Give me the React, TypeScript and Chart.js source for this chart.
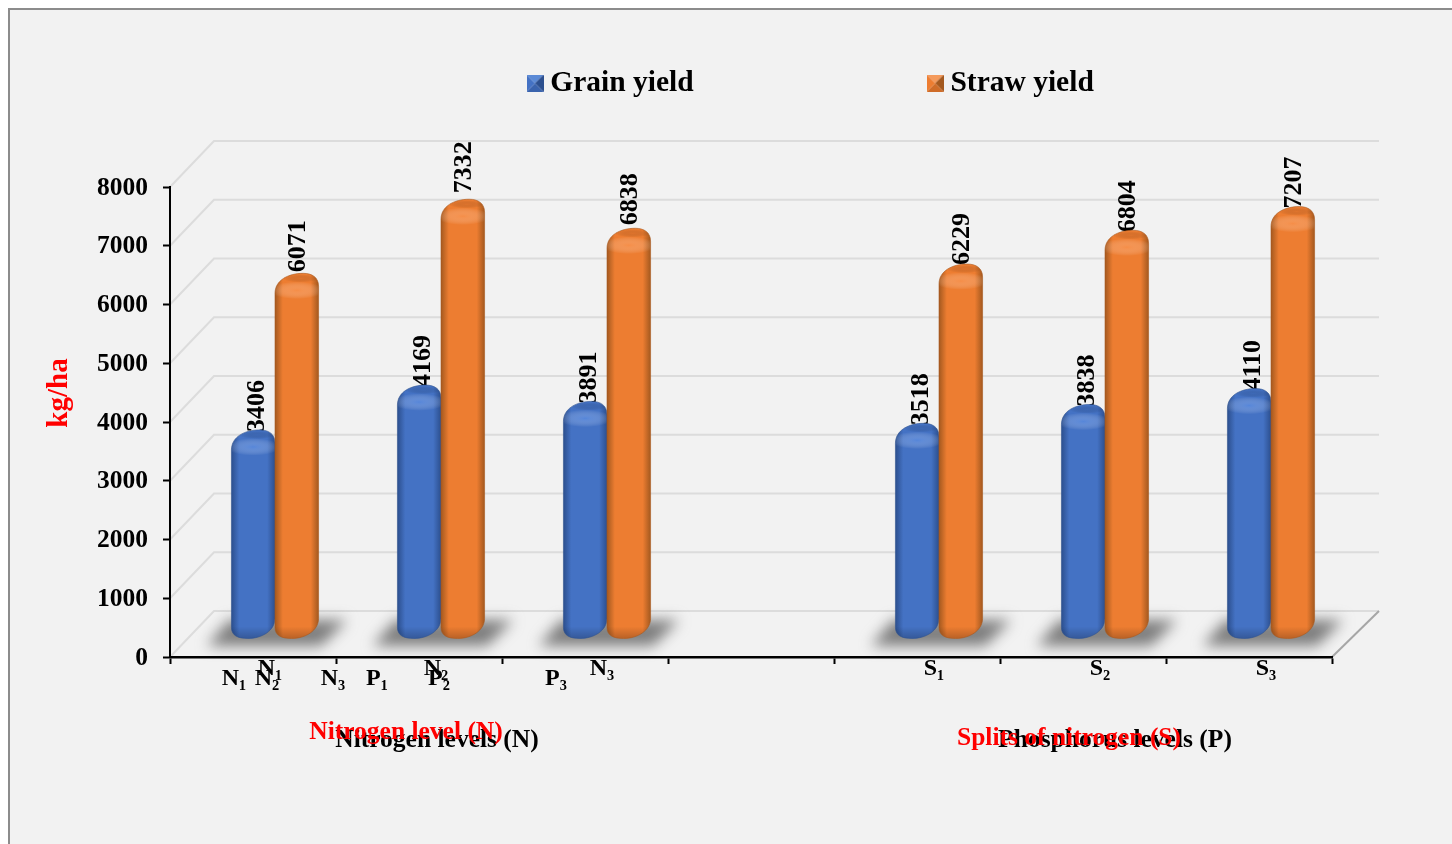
import React, { useEffect, useRef } from "react";
import { Chart, registerables } from "chart.js";

Chart.register(...registerables);

const categories = ["N\u2081", "N\u2082", "N\u2083", "", "S\u2081", "S\u2082", "S\u2083"];
const grainYield = [3406, 4169, 3891, null, 3518, 3838, 4110];
const strawYield = [6071, 7332, 6838, null, 6229, 6804, 7207];
const yTicks = [0, 1000, 2000, 3000, 4000, 5000, 6000, 7000, 8000];
const seriesNames = ["Grain yield", "Straw yield"];
const strayTickLabels = ["N\u2081", "N\u2082", "N\u2083", "P\u2081", "P\u2082", "P\u2083"];
const strayTickX = [234, 267, 333, 377, 439, 556];
const axisTitles = [
  { text: "Nitrogen levels (N)", color: "#000000", x: 437, y: 740 },
  { text: "Phosphorus levels (P)", color: "#000000", x: 1115, y: 740 },
  { text: "Nitrogen level (N)", color: "#ff0000", x: 406, y: 732 },
  { text: "Splits of nitrogen (S)", color: "#ff0000", x: 1069, y: 738 },
];
const strawLabelNudge = [3, 8, 5, 0, 1, 0, 0];

const SERIF = "'Liberation Serif', serif";
const DEPTH_X = 22;
const DEPTH_Y = 18;
const WALL_X = 44;
const WALL_Y = 46;

const palette = [
  { base: "#4472c4", dark: "#2c4f8e", mid: "#3a63ad", top: "#5b8ad6", light: "rgba(100,150,235,0.55)", face: "rgba(47,85,151,0.3)", line: "#2f528f" },
  { base: "#ed7d31", dark: "#a4591f", mid: "#cf6c28", top: "#f49a5c", light: "rgba(252,155,90,0.55)", face: "rgba(190,95,35,0.3)", line: "#a9591f" },
];

function legendIcon(p: (typeof palette)[number]) {
  const c = document.createElement("canvas");
  c.width = 17;
  c.height = 17;
  const g = c.getContext("2d")!;
  const tri = (pts: number[][], col: string) => {
    g.fillStyle = col;
    g.beginPath();
    g.moveTo(pts[0][0], pts[0][1]);
    g.lineTo(pts[1][0], pts[1][1]);
    g.lineTo(pts[2][0], pts[2][1]);
    g.closePath();
    g.fill();
  };
  tri([[0, 0], [17, 0], [8.5, 8.5]], p.top);
  tri([[17, 0], [17, 17], [8.5, 8.5]], p.dark);
  tri([[17, 17], [0, 17], [8.5, 8.5]], p.mid);
  tri([[0, 17], [0, 0], [8.5, 8.5]], p.base);
  return c;
}

function cylinderPath(ctx: CanvasRenderingContext2D, L: number, R: number, t: number, b: number) {
  const w = R - L;
  ctx.beginPath();
  ctx.moveTo(L, t + 20);
  ctx.bezierCurveTo(L, t + 7, L + 0.3 * w, t, L + 0.65 * w, t);
  ctx.bezierCurveTo(L + 0.85 * w, t, R, t + 4, R, t + 13);
  ctx.lineTo(R, b - 20);
  ctx.bezierCurveTo(R, b - 8, R - 0.3 * w, b, L + 0.38 * w, b);
  ctx.bezierCurveTo(L + 0.15 * w, b, L, b - 3, L, b - 11);
  ctx.closePath();
}

function drawCylinder(ctx: CanvasRenderingContext2D, el: any, p: (typeof palette)[number]) {
  const cx = el.x + DEPTH_X;
  const L = cx - el.width / 2;
  const R = cx + el.width / 2;
  const t = el.y - 9 - DEPTH_Y;
  const b = el.base - DEPTH_Y;
  ctx.save();
  cylinderPath(ctx, L, R, t, b);
  const g = ctx.createLinearGradient(L, 0, R, 0);
  g.addColorStop(0, p.dark);
  g.addColorStop(0.18, p.base);
  g.addColorStop(0.82, p.base);
  g.addColorStop(1, p.dark);
  ctx.fillStyle = g;
  ctx.fill();
  ctx.clip();
  // soft bright shoulder band and slightly darker top face
  ctx.save();
  ctx.translate(cx, t + 17);
  ctx.scale(1, 0.32);
  const r = ctx.createRadialGradient(0, 0, 0, 0, 0, el.width * 0.62);
  r.addColorStop(0, p.light);
  r.addColorStop(1, "rgba(255,255,255,0)");
  ctx.fillStyle = r;
  ctx.fillRect(-el.width, -el.width, el.width * 2, el.width * 2);
  ctx.restore();
  ctx.save();
  ctx.translate(cx + 4, t + 5);
  ctx.scale(1, 0.22);
  const f = ctx.createRadialGradient(0, 0, 0, 0, 0, el.width * 0.42);
  f.addColorStop(0, p.face);
  f.addColorStop(1, "rgba(0,0,0,0)");
  ctx.fillStyle = f;
  ctx.fillRect(-el.width, -el.width, el.width * 2, el.width * 2);
  ctx.restore();
  // darker lower rim
  const rim = ctx.createLinearGradient(0, b - 12, 0, b);
  rim.addColorStop(0, "rgba(0,0,0,0)");
  rim.addColorStop(1, "rgba(0,0,0,0.22)");
  ctx.fillStyle = rim;
  ctx.fillRect(L, b - 12, el.width, 12);
  ctx.restore();
  ctx.save();
  cylinderPath(ctx, L, R, t, b);
  ctx.strokeStyle = p.line;
  ctx.lineWidth = 0.6;
  ctx.stroke();
  ctx.restore();
}

const scenePlugin = {
  id: "scene",
  beforeLayout(chart: any) {
    const l = chart.legend;
    if (l && !l.__patched) {
      const fit = l.fit;
      l.fit = function () {
        fit.call(this);
        this.height = 0;
      };
      l.__patched = true;
    }
  },
  afterLayout(chart: any) {
    const l = chart.legend;
    const pad = l.options.labels.padding;
    l.left = 534.5 - pad;
    l.right = 1452;
    l.top = 68.5 - pad;
    l.bottom = 120;
  },
  beforeDraw(chart: any) {
    const { ctx, width, height } = chart;
    const x = chart.scales.x;
    const y = chart.scales.y;
    ctx.save();
    ctx.fillStyle = "#ffffff";
    ctx.fillRect(0, 0, width, height);
    ctx.fillStyle = "#f2f2f2";
    ctx.fillRect(9, 9, width, height);
    ctx.strokeStyle = "#8c8c8c";
    ctx.lineWidth = 2;
    ctx.beginPath();
    ctx.moveTo(9, height);
    ctx.lineTo(9, 9);
    ctx.lineTo(width, 9);
    ctx.stroke();

    const left = x.left;
    const right = x.right;
    const y0 = y.getPixelForValue(0);
    // gridlines on the side and back walls
    ctx.strokeStyle = "#dcdcdc";
    ctx.lineWidth = 2;
    yTicks.forEach((v) => {
      const py = y.getPixelForValue(v);
      ctx.beginPath();
      ctx.moveTo(left, py);
      ctx.lineTo(left + WALL_X, py - WALL_Y);
      ctx.lineTo(right + WALL_X + 3, py - WALL_Y);
      ctx.stroke();
    });
    ctx.strokeStyle = "#a6a6a6";
    ctx.beginPath();
    ctx.moveTo(right, y0);
    ctx.lineTo(right + WALL_X + 3, y0 - WALL_Y);
    ctx.stroke();

    // floor shadows under each pair of bars
    ctx.filter = "blur(7px)";
    ctx.fillStyle = "rgba(115,115,115,0.92)";
    categories.forEach((c, i) => {
      if (!c) return;
      const cx = x.getPixelForValue(i) + DEPTH_X;
      ctx.beginPath();
      ctx.moveTo(cx - 68, y0 - 11);
      ctx.lineTo(cx - 46, y0 - 37);
      ctx.lineTo(cx + 72, y0 - 37);
      ctx.lineTo(cx + 46, y0 - 11);
      ctx.closePath();
      ctx.fill();
    });
    ctx.filter = "none";
    ctx.restore();
  },
  beforeDatasetsDraw(chart: any) {
    const { ctx } = chart;
    ctx.save();
    // rotated values sit behind the bar caps
    ctx.font = `bold 26px ${SERIF}`;
    ctx.fillStyle = "#000000";
    ctx.textAlign = "left";
    ctx.textBaseline = "middle";
    chart.data.datasets.forEach((ds: any, di: number) => {
      chart.getDatasetMeta(di).data.forEach((el: any, i: number) => {
        const v = ds.data[i];
        if (v == null) return;
        ctx.save();
        ctx.translate(el.x + DEPTH_X + (di === 0 ? 4 : 1), el.y - 25 - (di === 1 ? strawLabelNudge[i] : 0));
        ctx.rotate(-Math.PI / 2);
        ctx.fillText(String(v), 0, 0);
        ctx.restore();
      });
    });
    ctx.restore();
  },
  beforeDatasetDraw() {
    return false;
  },
  afterDatasetsDraw(chart: any) {
    const { ctx } = chart;
    categories.forEach((c, i) => {
      if (!c) return;
      chart.data.datasets.forEach((_: any, di: number) => {
        drawCylinder(ctx, chart.getDatasetMeta(di).data[i], palette[di]);
      });
    });
  },
  afterDraw(chart: any) {
    const { ctx } = chart;
    ctx.save();
    ctx.textAlign = "center";
    ctx.textBaseline = "middle";
    ctx.fillStyle = "#000000";
    ctx.font = `bold 24px ${SERIF}`;
    strayTickLabels.forEach((t, i) => ctx.fillText(t, strayTickX[i], 679));
    ctx.font = `bold 25.5px ${SERIF}`;
    axisTitles.forEach((t) => {
      ctx.fillStyle = t.color;
      ctx.fillText(t.text, t.x, t.y);
    });
    ctx.save();
    ctx.translate(60, 393);
    ctx.rotate(-Math.PI / 2);
    ctx.font = `bold 29px ${SERIF}`;
    ctx.fillStyle = "#ff0000";
    ctx.fillText("kg/ha", 0, 0);
    ctx.restore();
    ctx.restore();
  },
};

export default function App() {
  const ref = useRef<HTMLCanvasElement | null>(null);
  useEffect(() => {
    document.body.style.margin = "0";
    const chart = new Chart(ref.current!, {
      type: "bar",
      data: {
        labels: categories,
        datasets: [
          { label: seriesNames[0], data: grainYield, backgroundColor: palette[0].base },
          { label: seriesNames[1], data: strawYield, backgroundColor: palette[1].base },
        ],
      },
      plugins: [scenePlugin],
      options: {
        animation: false,
        responsive: false,
        events: [],
        layout: { padding: { left: 0, top: 187, right: 120, bottom: 0 } },
        datasets: { bar: { categoryPercentage: 0.525, barPercentage: 1 } },
        plugins: {
          tooltip: { enabled: false },
          title: { display: false },
          legend: {
            display: true,
            position: "top",
            align: "start",
            labels: {
              font: { family: SERIF, size: 29.5, weight: "bold" },
              color: "#000000",
              padding: 241,
              boxWidth: 1,
              boxHeight: 17,
              usePointStyle: true,
              generateLabels: () =>
                seriesNames.map((n, i) => ({
                  text: n,
                  datasetIndex: i,
                  pointStyle: legendIcon(palette[i]),
                  fillStyle: palette[i].base,
                  strokeStyle: palette[i].base,
                  lineWidth: 0,
                })),
            },
          },
        },
        scales: {
          x: {
            type: "category",
            afterFit: (s: any) => {
              s.height = 844 - 657;
            },
            grid: { drawOnChartArea: false, color: "#000000", tickLength: 7, tickWidth: 2, offset: true },
            border: { color: "#000000", width: 2.5 },
            ticks: {
              autoSkip: false,
              maxRotation: 0,
              padding: -10,
              labelOffset: 17,
              color: "#000000",
              font: { family: SERIF, size: 24, weight: "bold" },
            },
          },
          y: {
            min: 0,
            max: 8000,
            afterFit: (s: any) => {
              s.width = 170;
            },
            grid: { drawOnChartArea: false, color: "#000000", tickLength: 7, tickWidth: 2 },
            border: { color: "#000000", width: 2 },
            ticks: {
              stepSize: 1000,
              padding: 15,
              labelOffset: 1,
              color: "#000000",
              font: { family: SERIF, size: 25.5, weight: "bold" },
              callback: (v: any) => String(v),
            },
          },
        },
      } as any,
    });
    return () => chart.destroy();
  }, []);
  return <canvas ref={ref} width={1452} height={844} style={{ display: "block" }} />;
}
